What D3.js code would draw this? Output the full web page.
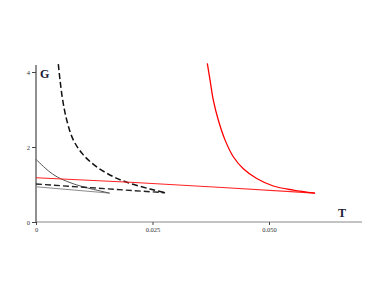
<!DOCTYPE html>
<html><head><meta charset="utf-8">
<script src="https://cdn.jsdelivr.net/npm/d3@7"></script>
<style>body{margin:0;background:#fff}svg{display:block}</style>
</head><body>
<script>
const xTicks = [0, 0.025, 0.050];
const xTickLabels = ["0", "0.025", "0.050"];
const yTicks = [0, 2, 4];
const yTickLabels = ["0", "2", "4"];

// red curve branch (steep)
const redCurveT = [0.03676, 0.03734, 0.03805, 0.03912, 0.04056, 0.04234, 0.04449, 0.04736, 0.05092, 0.05521, 0.05987];
const redCurveG = [4.23, 3.79, 3.25, 2.72, 2.19, 1.74, 1.42, 1.16, 0.96, 0.85, 0.77];
// red near-flat branch
const redLineT = [0, 0.0202, 0.0400, 0.0599];
const redLineG = [1.18, 1.06, 0.92, 0.77];
// black dashed curve
const dashCurveT = [0.00479, 0.00515, 0.00573, 0.00659, 0.00800, 0.01015, 0.01303, 0.01659, 0.02017, 0.02446, 0.02768];
const dashCurveG = [4.21, 3.79, 3.25, 2.72, 2.19, 1.79, 1.47, 1.21, 1.03, 0.88, 0.78];
// black dashed straight branch
const dashLineT = [0, 0.0277];
const dashLineG = [1.013, 0.78];
// thin gray line
const grayLineT = [0, 0.0158];
const grayLineG = [0.94, 0.77];
// thin dark curve
const darkCurveT = [0, 0.0030, 0.0052, 0.0080, 0.0110, 0.0158];
const darkCurveG = [1.67, 1.33, 1.16, 1.02, 0.91, 0.77];

const W = 390, H = 301;
const svg = d3.select("body").append("svg").attr("width", W).attr("height", H);

const x = d3.scaleLinear().domain([0, 0.07]).range([36, 362.2]);
const y = d3.scaleLinear().domain([0, 4]).range([222, 72]);

const zip = (a, b) => a.map((v, i) => [v, b[i]]);
const line = d3.line().x(d => x(d[0])).y(d => y(d[1]));
const curve = d3.line().x(d => x(d[0])).y(d => y(d[1])).curve(d3.curveCatmullRom.alpha(0.5));

// axes
const xAxis = d3.axisBottom(x).tickValues(xTicks).tickFormat((d, i) => xTickLabels[i]).tickSize(3).tickSizeOuter(0);
const gx = svg.append("g").attr("transform", `translate(0,${y(0)})`).call(xAxis);
gx.select(".domain").attr("stroke", "#888").attr("d", `M${x(0)},0H362`);
gx.selectAll(".tick line").attr("stroke", "#444");
gx.selectAll("text").attr("font-family", "Liberation Serif, serif").attr("font-size", 6.5).attr("fill", "#333").attr("dy", "0.6em");

const yAxis = d3.axisLeft(y).tickValues(yTicks).tickFormat((d, i) => yTickLabels[i]).tickSize(4).tickSizeOuter(0);
const gy = svg.append("g").attr("transform", `translate(${x(0)},0)`).call(yAxis);
gy.select(".domain").attr("stroke", "#222").attr("d", `M0,${y(0)}V65`);
gy.selectAll(".tick line").attr("stroke", "#444");
gy.selectAll("text").attr("font-family", "Liberation Serif, serif").attr("font-size", 6.5).attr("fill", "#333").attr("x", -6);

// series
svg.append("path").attr("d", line(zip(grayLineT, grayLineG))).attr("fill", "none").attr("stroke", "#8a8a8a").attr("stroke-width", 1);
svg.append("path").attr("d", curve(zip(darkCurveT, darkCurveG))).attr("fill", "none").attr("stroke", "#555").attr("stroke-width", 1);
svg.append("path").attr("d", line(zip(dashLineT, dashLineG))).attr("fill", "none").attr("stroke", "#222").attr("stroke-width", 1.4).attr("stroke-dasharray", "6,3");
svg.append("path").attr("d", curve(zip(dashCurveT, dashCurveG))).attr("fill", "none").attr("stroke", "#111").attr("stroke-width", 1.5).attr("stroke-dasharray", "6,3");
svg.append("path").attr("d", line(zip(redLineT, redLineG))).attr("fill", "none").attr("stroke", "#f22").attr("stroke-width", 1.2);
svg.append("path").attr("d", curve(zip(redCurveT, redCurveG))).attr("fill", "none").attr("stroke", "#f00").attr("stroke-width", 1.3);

// axis titles
svg.append("text").attr("x", 40).attr("y", 78).text("G").attr("font-family", "Liberation Serif, serif").attr("font-weight", "bold").attr("font-size", 12).attr("fill", "#1a1a33");
svg.append("text").attr("x", 338).attr("y", 217).text("T").attr("font-family", "Liberation Serif, serif").attr("font-weight", "bold").attr("font-size", 12).attr("fill", "#1a1a33");
</script>
</body></html>
